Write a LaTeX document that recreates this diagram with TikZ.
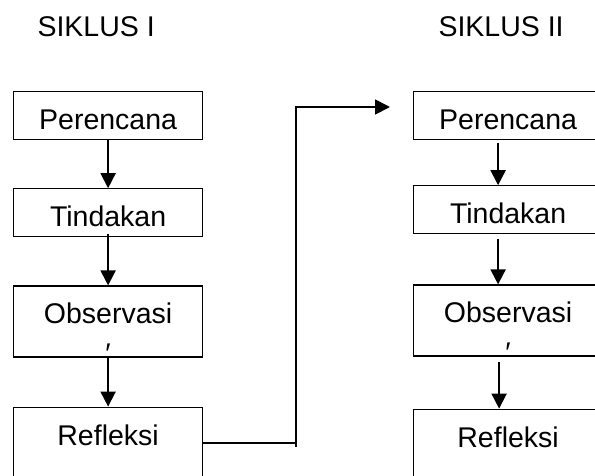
\documentclass[tikz,border=0pt]{standalone}
\usepackage{fontspec}
\setmainfont{Liberation Sans}
\usepackage{tikz}
\usetikzlibrary{positioning, arrows.meta}

\begin{document}
\begin{tikzpicture}[x=1pt, y=-1pt, font=\fontsize{28.5}{32}\selectfont]
    \tikzstyle{shortbox} = [draw, line width=1.2pt, minimum width=189pt, inner xsep=0pt, inner ysep=0pt, text height=38pt, text depth=10pt, align=center]
    \tikzstyle{tallbox} = [draw, line width=1.2pt, minimum width=189pt, inner xsep=0pt, inner ysep=0pt, text height=38pt, text depth=33pt, align=center]
    \tikzstyle{markbox} = [tallbox, text height=68pt, text depth=3pt]
    \tikzstyle{arrow} = [-{Triangle[length=15pt,width=15pt]}, line width=1.8pt]
    \tikzstyle{standard} = [line width=1.8pt]

    \useasboundingbox (0,0) rectangle (595,475);

    \node [anchor=base west] (siklus1) at (34,36) {SIKLUS I};
    \node [anchor=base west] (siklus2) at (435,36) {SIKLUS II};

    \node [shortbox, anchor=north west] (per1) at (13,91) {Perencana};
    \node [shortbox, anchor=north] (tin1) at ([yshift=-48pt]per1.south) {Tindakan};
    \node [markbox, anchor=north] (obs1) at ([yshift=-48pt]tin1.south) {Observasi\\[-1pt]\raisebox{-9pt}{′}};
    \node [tallbox, anchor=north] (ref1) at ([yshift=-49pt]obs1.south) {Refleksi};

    \draw [arrow] (per1.south) -- (tin1.north);
    \draw [arrow] ([yshift=3pt]tin1.south) -- (obs1.north);
    \draw [arrow] (obs1.south) -- (ref1.north);

    \node [shortbox, anchor=north west] (per2) at (413,91) {Perencana};
    \node [shortbox, anchor=north] (tin2) at ([yshift=-45pt]per2.south) {Tindakan};
    \node [markbox, anchor=north] (obs2) at ([yshift=-50pt]tin2.south) {Observasi\\[-1pt]\raisebox{-9pt}{′}};
    \node [tallbox, anchor=north] (ref2) at ([yshift=-52pt]obs2.south) {Refleksi};

    \draw [arrow] ([xshift=-10pt,yshift=-3pt]per2.south) -- ([xshift=-10pt]tin2.north);
    \draw [arrow] ([xshift=-10pt,yshift=-5pt]tin2.south) -- ([xshift=-10pt]obs2.north);
    \draw [arrow] ([xshift=-9pt,yshift=-5pt]obs2.south) -- ([xshift=-9pt]ref2.north);

    % siklus I ke siklus II
    \coordinate (bend) at (296,107);
    \coordinate (tip) at (390,107);
    \draw [standard] (ref1.east) -- (ref1.east -| bend);
    \draw [arrow] ([yshift=-4pt]ref1.east -| bend) -- (bend) -- (tip);

\end{tikzpicture}
\end{document}
